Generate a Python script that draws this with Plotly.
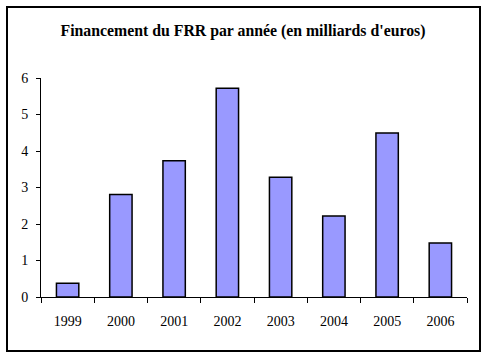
import plotly.graph_objects as go

years = ["1999", "2000", "2001", "2002", "2003", "2004", "2005", "2006"]
values = [0.38, 2.81, 3.73, 5.72, 3.28, 2.22, 4.49, 1.48]
y_ticks = [0, 1, 2, 3, 4, 5, 6]
title_text = "Financement du FRR par année (en milliards d'euros)"

W, H = 486, 358
L, R, T, B = 41, 19, 78, 61
pw, ph = W - L - R, H - T - B

def px_to_paper_x(x):
    return (x - L) / pw

def px_to_paper_y(y):
    return (H - B - y) / ph

SERIF = "Liberation Serif"

fig = go.Figure()
fig.add_trace(go.Bar(
    x=years, y=values,
    marker=dict(color="#9999FF", line=dict(color="black", width=1.5)),
    width=0.42,
))

font = dict(family=SERIF, color="black", size=14)

fig.update_layout(
    width=W, height=H,
    margin=dict(l=L, r=R, t=T, b=B),
    paper_bgcolor="white", plot_bgcolor="white",
    showlegend=False,
    font=font,
    title=dict(text="<b>" + title_text + "</b>", x=0.5, xanchor="center",
               y=1 - 30 / H, yanchor="middle",
               font=dict(family=SERIF, size=15.8, color="black")),
    xaxis=dict(showline=True, linecolor="black", linewidth=1,
               ticks="outside", tickson="boundaries", ticklen=5, tickcolor="black",
               showgrid=False, zeroline=False, ticklabelstandoff=11,
               tickfont=dict(family=SERIF, size=14, color="black")),
    yaxis=dict(range=[0, 6], tickvals=y_ticks, showline=True, linecolor="black", linewidth=1,
               ticks="outside", ticklen=4, tickcolor="black", showgrid=False, zeroline=False,
               ticklabelstandoff=5,
               tickfont=dict(family=SERIF, size=14, color="black")),
    shapes=[dict(type="rect", xref="paper", yref="paper",
                 x0=px_to_paper_x(7), x1=px_to_paper_x(480),
                 y0=px_to_paper_y(351), y1=px_to_paper_y(7),
                 line=dict(color="black", width=2), layer="above")],
)

fig.write_html("out.html", config={"displayModeBar": False},
               post_script="document.body.style.margin='0px';")
